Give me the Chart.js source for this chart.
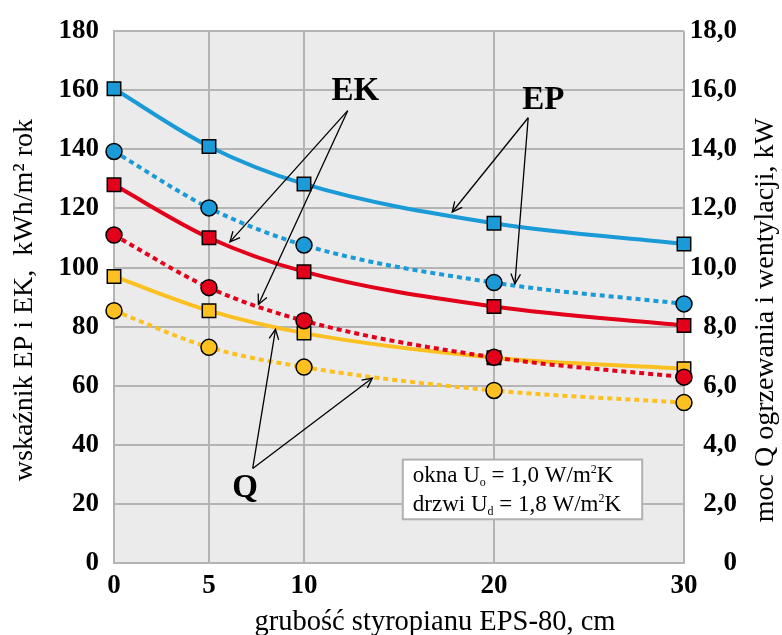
<!DOCTYPE html>
<html>
<head>
<meta charset="utf-8">
<script src="https://cdn.jsdelivr.net/npm/chart.js@4.4.1/dist/chart.umd.min.js"></script>
<style>
html,body{margin:0;padding:0;background:#fff;}
#wrap{width:782px;height:635px;position:relative;}
</style>
</head>
<body>
<div id="wrap"><canvas id="c" width="782" height="635"></canvas></div>
<script>
// x: grubość styropianu, cm
const xVals = [0, 5, 10, 20, 30];
const xTicks = [0, 5, 10, 20, 30];
// EP (kWh/m2 rok)
const epSolid  = [160.5, 141.0, 128.3, 115.0, 108.0];
const epDotted = [139.3, 120.2, 107.6, 94.9, 87.7];
// EK (kWh/m2 rok)
const ekSolid  = [128.0, 110.1, 98.6, 86.8, 80.4];
const ekDotted = [111.0, 93.2, 82.0, 69.6, 62.9];
// Q (kW)
const qSolid  = [9.70, 8.54, 7.78, 6.95, 6.58];
const qDotted = [8.54, 7.30, 6.63, 5.84, 5.43];

const leftTitle = 'wskaźnik EP i EK,  kWh/m² rok';
const rightTitle = 'moc Q ogrzewania i wentylacji, kW';
const bottomTitle = 'grubość styropianu EPS-80, cm';

// annotation labels & arrows in data units (x, left y)
const labels = [
  {text: 'EK', x: 12.7, y: 159.5},
  {text: 'EP', x: 22.6, y: 156.5},
  {text: 'Q',  x: 6.9,  y: 25.2}
];
const arrows = [
  [12.3, 153.1, 6.1, 108.7],
  [12.3, 153.1, 7.6, 87.5],
  [21.8, 150.7, 17.8, 118.8],
  [21.8, 150.7, 21.1, 94.5],
  [7.3, 32.0, 8.5, 79.1],
  [7.3, 32.0, 13.6, 62.6]
];
const boxLines = [
  ['okna U', 'o', ' = 1,0 W/m', '2', 'K'],
  ['drzwi U', 'd', ' = 1,8 W/m', '2', 'K']
];
const boxArea = {x1: 15.2, x2: 27.8, y1: 35.0, y2: 14.8};

const BLUE = '#1a9ad6', RED = '#e2001a', YEL = '#fcc020';
const FONT = '"Liberation Serif", "Times New Roman", serif';

function pts(arr){ return xVals.map((x,i)=>({x:x, y:arr[i]})); }
function ds(data, color, dotted, shape, axis){
  return {
    data: pts(data), yAxisID: axis, clip: false,
    borderColor: color, backgroundColor: color,
    borderWidth: 4, borderDash: dotted ? [5,4] : [],
    cubicInterpolationMode: 'monotone',
    pointStyle: shape, pointRadius: shape === 'rect' ? 9.5 : 8,
    pointBorderColor: '#000', pointBorderWidth: 1.5,
    pointBackgroundColor: color, fill: false
  };
}

const decor = {
  id: 'decor',
  beforeDraw(chart){
    const {ctx, chartArea:a} = chart;
    ctx.save();
    ctx.fillStyle = '#ebebeb';
    ctx.fillRect(a.left, a.top, a.right-a.left, a.bottom-a.top);
    ctx.restore();
  },
  afterDatasetsDraw(chart){
    const {ctx, chartArea:a, scales} = chart;
    const X = v => scales.x.getPixelForValue(v);
    const Y = v => scales.y.getPixelForValue(v);
    ctx.save();
    // arrows
    ctx.strokeStyle = '#000'; ctx.lineWidth = 1.3;
    arrows.forEach(([x1,y1,x2,y2])=>{
      const px1=X(x1), py1=Y(y1), px2=X(x2), py2=Y(y2);
      ctx.beginPath(); ctx.moveTo(px1,py1); ctx.lineTo(px2,py2); ctx.stroke();
      const ang = Math.atan2(py2-py1, px2-px1), L=11, w=0.45;
      ctx.beginPath();
      ctx.moveTo(px2 - L*Math.cos(ang-w), py2 - L*Math.sin(ang-w));
      ctx.lineTo(px2, py2);
      ctx.lineTo(px2 - L*Math.cos(ang+w), py2 - L*Math.sin(ang+w));
      ctx.stroke();
    });
    // labels
    ctx.fillStyle = '#000';
    ctx.font = 'bold 33px ' + FONT;
    ctx.textAlign = 'center'; ctx.textBaseline = 'middle';
    labels.forEach(l => ctx.fillText(l.text, X(l.x), Y(l.y)));
    // box
    const bx1=X(boxArea.x1), bx2=X(boxArea.x2), by1=Y(boxArea.y1), by2=Y(boxArea.y2);
    ctx.fillStyle = '#fff'; ctx.fillRect(bx1, by1, bx2-bx1, by2-by1);
    ctx.strokeStyle = '#b0b0b0'; ctx.lineWidth = 2; ctx.strokeRect(bx1, by1, bx2-bx1, by2-by1);
    ctx.fillStyle = '#000'; ctx.textAlign = 'left'; ctx.textBaseline = 'alphabetic';
    boxLines.forEach((parts, i)=>{
      let x = bx1 + 10; const base = by1 + 22 + i*29;
      parts.forEach((p, j)=>{
        if (j === 1) { ctx.font = '12px ' + FONT; ctx.fillText(p, x, base + 4); }
        else if (j === 3) { ctx.font = '12px ' + FONT; ctx.fillText(p, x, base - 9); }
        else { ctx.font = '23px ' + FONT; ctx.fillText(p, x, base); }
        x += ctx.measureText(p).width;
      });
    });
    // axis titles
    ctx.font = '28px ' + FONT; ctx.textAlign = 'center'; ctx.textBaseline = 'middle';
    ctx.save(); ctx.translate(25, (a.top+a.bottom)/2 + 3); ctx.rotate(-Math.PI/2);
    ctx.fillText(leftTitle, 0, 0); ctx.restore();
    ctx.save(); ctx.translate(chart.width - 16, (a.top+a.bottom)/2 + 23); ctx.rotate(-Math.PI/2);
    ctx.fillText(rightTitle, 0, 0); ctx.restore();
    ctx.font = '28.5px ' + FONT;
    ctx.fillText(bottomTitle, (a.left+a.right)/2 + 36, chart.height - 12);
    ctx.restore();
  }
};

const tickFont = {family: FONT, size: 27, weight: 'bold'};
const gridColor = '#b4b4b4';

new Chart(document.getElementById('c'), {
  type: 'line',
  data: { datasets: [
    ds(epSolid, BLUE, false, 'rect', 'y'),
    ds(epDotted, BLUE, true, 'circle', 'y'),
    ds(ekSolid, RED, false, 'rect', 'y'),
    ds(ekDotted, RED, true, 'circle', 'y'),
    ds(qSolid, YEL, false, 'rect', 'y1'),
    ds(qDotted, YEL, true, 'circle', 'y1')
  ]},
  options: {
    responsive: false, animation: false,
    layout: {padding: {top: 28, left: 0, right: 45, bottom: 0}},
    plugins: {legend: {display: false}, tooltip: {enabled: false}},
    scales: {
      x: {
        type: 'linear', min: 0, max: 30,
        afterBuildTicks: s => { s.ticks = xTicks.map(v => ({value: v})); },
        afterFit: s => { s.height = 72; },
        grid: {color: gridColor, lineWidth: 2, drawTicks: false},
        border: {color: gridColor, width: 2},
        ticks: {font: tickFont, color: '#000', padding: 7, maxRotation: 0}
      },
      y: {
        position: 'left', min: 0, max: 180,
        afterFit: s => { s.width = 114; },
        grid: {color: gridColor, lineWidth: 2, drawTicks: false},
        border: {color: gridColor, width: 2},
        ticks: {stepSize: 10, font: tickFont, color: '#000', padding: 15,
          callback: v => (v % 20 === 0 ? String(v) : '')}
      },
      y1: {
        position: 'right', min: 0, max: 18,
        afterFit: s => { s.width = 53; },
        grid: {display: false, drawTicks: false},
        border: {display: false},
        ticks: {stepSize: 2, font: tickFont, color: '#000', padding: 4, crossAlign: 'far',
          callback: v => (v === 0 ? '0' : v.toFixed(1).replace('.', ','))}
      }
    }
  },
  plugins: [decor]
});
</script>
</body>
</html>
